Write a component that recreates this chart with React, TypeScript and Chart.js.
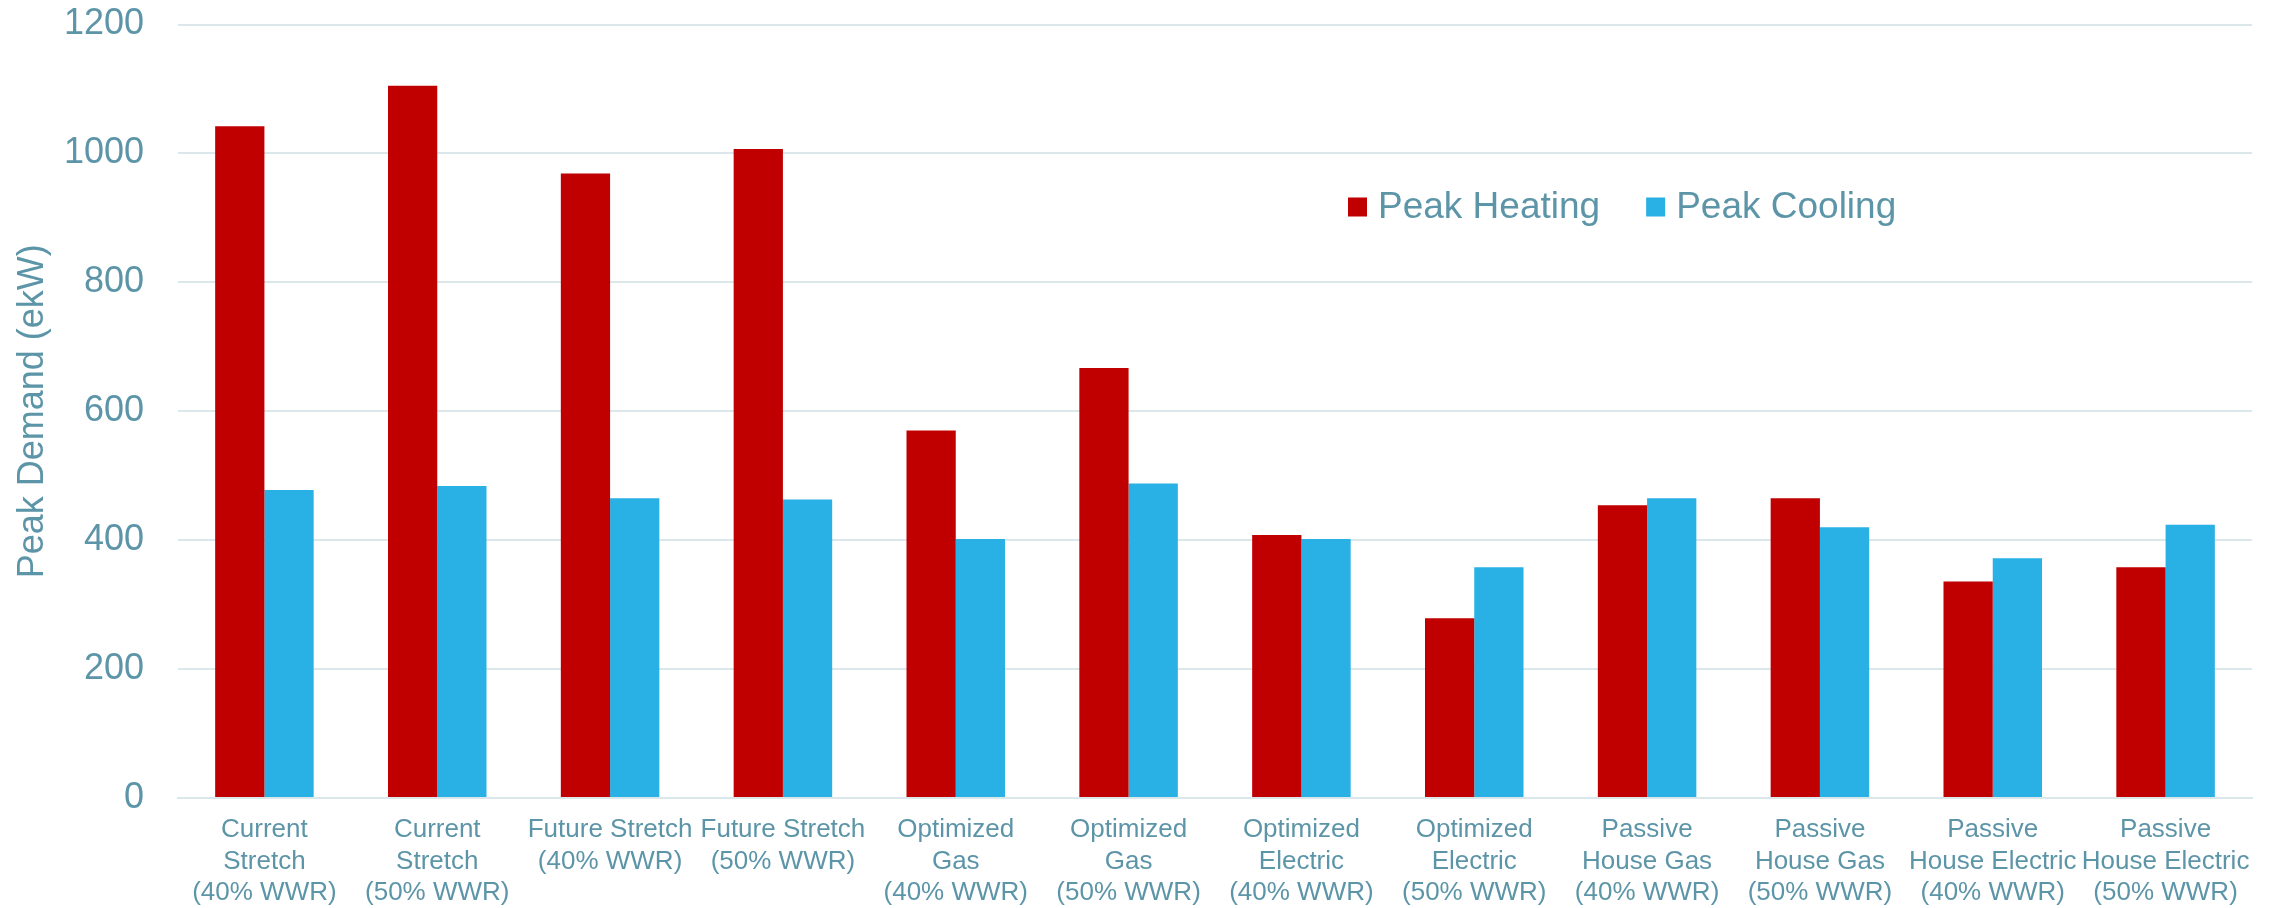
import React, { useEffect, useRef } from "react";
import { Chart, registerables } from "chart.js";

Chart.register(...registerables);

const categories: string[][] = [
  ["Current", "Stretch", "(40% WWR)"],
  ["Current", "Stretch", "(50% WWR)"],
  ["Future Stretch", "(40% WWR)"],
  ["Future Stretch", "(50% WWR)"],
  ["Optimized", "Gas", "(40% WWR)"],
  ["Optimized", "Gas", "(50% WWR)"],
  ["Optimized", "Electric", "(40% WWR)"],
  ["Optimized", "Electric", "(50% WWR)"],
  ["Passive", "House Gas", "(40% WWR)"],
  ["Passive", "House Gas", "(50% WWR)"],
  ["Passive", "House Electric", "(40% WWR)"],
  ["Passive", "House Electric", "(50% WWR)"],
];

const peakHeating: number[] = [1042, 1105, 969, 1007, 570, 667, 408, 279, 454, 465, 336, 358];
const peakCooling: number[] = [478, 484, 465, 463, 402, 488, 402, 358, 465, 420, 372, 424];

const seriesLabels = ["Peak Heating", "Peak Cooling"];
const yTitle = "Peak Demand (ekW)";
const yMin = 0;
const yMax = 1200;
const yStep = 200;

const FONT = "'Liberation Sans', Arial, sans-serif";
const TEXT_COLOR = "#5D95A8";
const GRID_COLOR = "#DCE7EC";
const RED = "#C00000";
const BLUE = "#29B0E4";

const legendPlugin = {
  id: "insideLegend",
  afterDraw(chart: any) {
    const ctx = chart.ctx;
    ctx.save();
    ctx.font = `37px ${FONT}`;
    ctx.textBaseline = "middle";
    ctx.textAlign = "left";
    let x = 1348;
    const y = 207;
    chart.data.datasets.forEach((ds: any) => {
      ctx.fillStyle = ds.backgroundColor;
      ctx.fillRect(x, y - 9.5, 19, 19);
      ctx.fillStyle = TEXT_COLOR;
      ctx.fillText(ds.label, x + 30, y + 1);
      x += 30 + ctx.measureText(ds.label).width + 46;
    });
    ctx.restore();
  },
};

export default function App() {
  const ref = useRef<HTMLCanvasElement | null>(null);

  useEffect(() => {
    document.body.style.margin = "0";
    const canvas = ref.current;
    if (!canvas) return;
    const chart = new Chart(canvas, {
      type: "bar",
      data: {
        labels: categories,
        datasets: [
          {
            label: seriesLabels[0],
            data: peakHeating,
            backgroundColor: RED,
            borderWidth: 0,
            categoryPercentage: 0.57,
            barPercentage: 1,
          },
          {
            label: seriesLabels[1],
            data: peakCooling,
            backgroundColor: BLUE,
            borderWidth: 0,
            categoryPercentage: 0.57,
            barPercentage: 1,
          },
        ],
      },
      options: {
        animation: false,
        responsive: false,
        devicePixelRatio: 1,
        layout: { padding: { top: 24.5, right: 28, left: 0, bottom: 0 } },
        plugins: {
          legend: { display: false },
          tooltip: { enabled: false },
        },
        scales: {
          x: {
            grid: { display: false, drawTicks: false },
            border: { display: true, color: GRID_COLOR, width: 2 },
            ticks: {
              autoSkip: false,
              maxRotation: 0,
              minRotation: 0,
              padding: 16,
              color: TEXT_COLOR,
              font: { family: FONT, size: 26, lineHeight: 1.22 },
            },
            afterFit: (scale: any) => {
              scale.height = 110;
            },
          },
          y: {
            min: yMin,
            max: yMax,
            grid: { color: GRID_COLOR, lineWidth: 2, drawTicks: false },
            border: { display: false },
            ticks: {
              stepSize: yStep,
              padding: 34,
              color: TEXT_COLOR,
              font: { family: FONT, size: 36 },
              callback: (v: any) => String(v),
            },
            title: {
              display: true,
              text: yTitle,
              color: TEXT_COLOR,
              font: { family: FONT, size: 36 },
              padding: { top: 11, bottom: 0 },
            },
            afterFit: (scale: any) => {
              scale.width = 178;
              scale.paddingTop = 0;
              scale.paddingBottom = 0;
            },
          },
        },
      },
      plugins: [legendPlugin],
    });
    return () => chart.destroy();
  }, []);

  return (
    <div style={{ width: 2280, height: 908 }}>
      <canvas ref={ref} width={2280} height={908} style={{ display: "block" }} />
    </div>
  );
}
